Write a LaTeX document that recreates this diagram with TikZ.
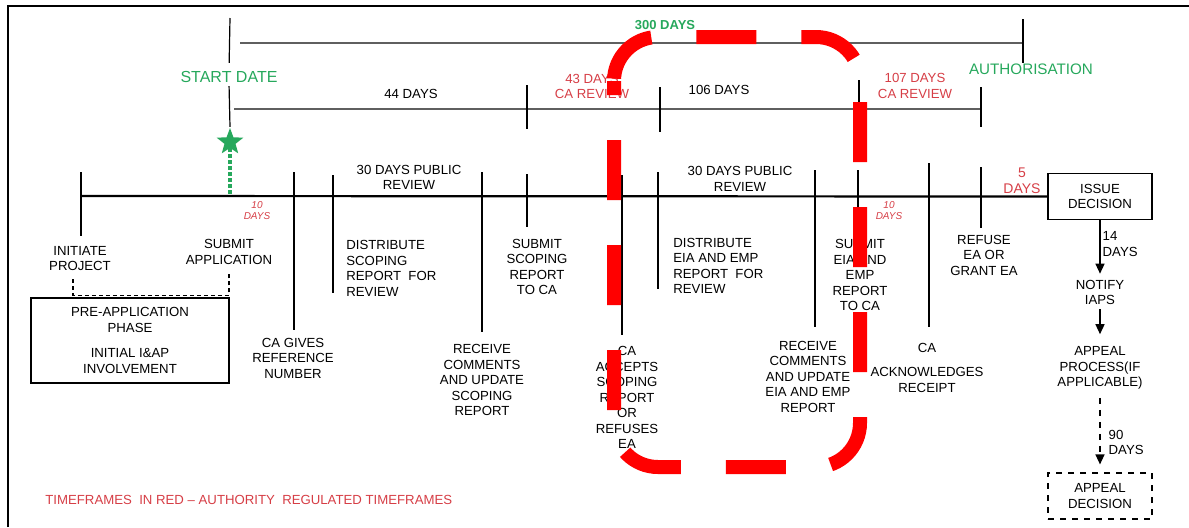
\documentclass[tikz,border=0pt]{standalone}
\usepackage{fontspec}
\setmainfont{Liberation Sans}
\usetikzlibrary{arrows.meta,shapes.geometric}

\definecolor{startgreen}{RGB}{38,168,92}
\definecolor{timered}{RGB}{214,62,70}
\definecolor{linegray}{RGB}{95,95,95}

\tikzset{
	lbl/.style={font=\fontsize{6.6}{7.75}\selectfont, align=center, inner sep=0pt},
	redlbl/.style={lbl, text=timered},
	greenlbl/.style={font=\fontsize{8}{9}\selectfont, text=startgreen, inner sep=0pt},
	tickline/.style={line width=1pt},
	decisionbox/.style={lbl, draw, line width=0.7pt, minimum width=52pt, minimum height=23pt},
	flow/.style={-{Triangle[width=4.5pt,length=5pt]}, line width=0.7pt},
}

\begin{document}
	\begin{tikzpicture}[x=0.5pt, y=-0.5pt]
		\useasboundingbox (0,0) rectangle (1189,527);
		\draw[line width=0.8pt] (8,527) -- (8,6) -- (1189,6);

		% overall span and review spans
		\begin{scope}[linegray, line width=0.7pt]
			\draw (240,43) -- (1023,43);
			\draw (234,109) -- (981,109);
		\end{scope}
		\draw[line width=0.6pt] (1023,19) -- (1023,63);
		\foreach \x/\ya/\yb in {527/85/129, 660/87/132, 859/80/125, 981/87/127}
			\draw[line width=0.6pt] (\x,\ya) -- (\x,\yb);

		\node[greenlbl, font=\fontsize{6.5}{7}\selectfont\bfseries] (totaldays) at (665,25) {300 DAYS};
		\node[greenlbl, font=\fontsize{7.6}{9}\selectfont] (authorisation) at (1031,69) {AUTHORISATION};
		\node[lbl] (scopingdays) at (411,94) {44 DAYS};
		\node[redlbl] (careviewa) at (592,86.5) {43 DAYS\\CA REVIEW};
		\node[lbl] (eiadays) at (719,90) {106 DAYS};
		\node[redlbl] (careviewb) at (915,86) {107 DAYS\\CA REVIEW};

		% start date marker
		\coordinate (starttop) at (230,18);
		\coordinate (startmark) at (230,196);
		\node[greenlbl] (startdate) at (229,77) {START DATE};
		\node[shape=star, star points=5, star point ratio=2.4, fill=startgreen, minimum size=14pt, inner sep=0pt] (startstar) at (230,142) {};
		\draw[line width=0.6pt, shorten >=4pt] (starttop) -- (startdate.north);
		\draw[line width=0.6pt, shorten <=1.5pt] (startdate.south) -- (startstar.north);
		\draw[startgreen, line width=1.6pt, dash pattern=on 1.6pt off 1.4pt] (startstar.south) -- (startmark);

		% main time line
		\coordinate (tlstart) at (81,196);
		\node[decisionbox] (issue) at (1100,196.5) {ISSUE\\DECISION};
		\draw[line width=1.1pt] (tlstart) -- (issue.west);
		\foreach \x/\ya/\yb in {81/172/236, 294/172/330, 333/175/293, 482/172/332, 527/174/227, 622/175/335,
				658/172/289, 815/170/327, 858/170/210, 929/163/327, 981/167/228}
			\draw[tickline] (\x,\ya) -- (\x,\yb);

		\node[lbl] (publica) at (409,177.5) {30 DAYS PUBLIC\\REVIEW};
		\node[lbl] (publicb) at (740,179) {30 DAYS PUBLIC\\REVIEW};
		\node[redlbl, font=\fontsize{5}{5.5}\selectfont\itshape] (tendaysa) at (257,211) {10\\DAYS};
		\node[redlbl, font=\fontsize{5}{5.5}\selectfont\itshape] (tendaysb) at (889,211) {10\\DAYS};
		\node[redlbl, font=\fontsize{7}{8}\selectfont] (fivedays) at (1022,181) {5\\DAYS};

		% steps
		\node[lbl] (initiate) at (80,258.5) {INITIATE\\PROJECT};
		\node[lbl] (submit) at (229,252) {SUBMIT\\APPLICATION};
		\node[lbl] (refnumber) at (293,358) {CA GIVES\\REFERENCE\\NUMBER};
		\node[lbl, align=left, anchor=west] (distscoping) at (346,268.5) {DISTRIBUTE\\SCOPING\\REPORT\ \ FOR\\REVIEW};
		\node[lbl] (updscoping) at (482,380) {RECEIVE\\COMMENTS\\AND UPDATE\\SCOPING\\REPORT};
		\node[lbl] (subscoping) at (537,267) {SUBMIT\\SCOPING\\REPORT\\TO\ CA};
		\node[lbl] (accepts) at (627,397.5) {CA\\ACCEPTS\\SCOPING\\REPORT\\OR\\REFUSES\\EA};
		\node[lbl, align=left, anchor=west] (disteia) at (673,266) {DISTRIBUTE\\EIA AND EMP\\REPORT\ \ FOR\\REVIEW};
		\node[lbl] (updeia) at (808,376.5) {RECEIVE\\COMMENTS\\AND UPDATE\\EIA AND EMP\\REPORT};
		\node[lbl] (subeia) at (860,275) {SUBMIT\\EIA AND\\EMP\\REPORT\\TO CA};
		\node[lbl] (acknowledges) at (927,368) {CA\\[4.2pt]ACKNOWLEDGES\\RECEIPT};
		\node[lbl] (grant) at (984,255) {REFUSE\\EA OR\\GRANT EA};

		\node[lbl, draw, line width=0.7pt, minimum width=99pt, minimum height=42.5pt] (preapp) at (130,340.5)
			{PRE-APPLICATION\\PHASE\\[5pt]INITIAL I\&AP\\INVOLVEMENT};
		\draw[line width=0.6pt, dash pattern=on 2pt off 1.5pt, shorten <=4pt, shorten >=4pt]
			([xshift=-3.5pt]initiate.south) |- ([yshift=1pt]preapp.north) -| (submit.south);

		% after the decision
		\node[lbl] (notify) at (1100,292.5) {NOTIFY\\IAPS};
		\node[lbl] (appeal) at (1100,368) {APPEAL\\PROCESS(IF\\APPLICABLE)};
		\node[decisionbox, dashed, line width=0.6pt] (appealdec) at (1100,496) {APPEAL\\DECISION};
		\draw[flow, shorten >=3pt] (issue) -- (notify)
			node[lbl, align=left, anchor=west, pos=0.4, xshift=1pt] (fourteen) {14\\DAYS};
		\draw[flow, shorten <=2pt, shorten >=6pt] (notify) -- (appeal);
		\draw[flow, dashed, shorten <=4pt, shorten >=4pt] (appeal) -- (appealdec)
			node[lbl, align=left, anchor=west, pos=0.64, xshift=4pt] (ninety) {90\\DAYS};

		\node[redlbl, anchor=west] (legend) at (45,500) {TIMEFRAMES\ \ IN RED – AUTHORITY\ \ REGULATED TIMEFRAMES};

		% highlight
		\draw[red, line width=7pt, dash pattern=on 30pt off 22.5pt, dash phase=23pt, rounded corners=22pt]
			(614,37) rectangle (860,467);
	\end{tikzpicture}
\end{document}
